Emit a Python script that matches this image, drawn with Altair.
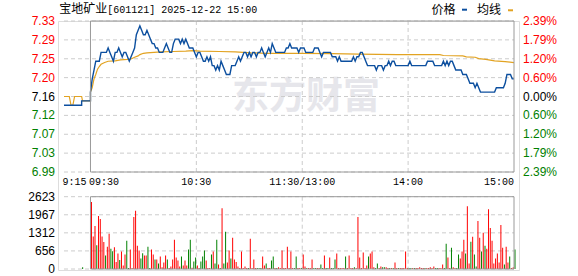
import altair as alt
import pandas as pd

W, H, PH = 461, 249, 151
NUMF = "Liberation Sans"
MONO = "Liberation Mono"
CJK = "Noto Sans CJK SC"

# ---------------- data ----------------
title_name = "宝地矿业"
title_rest = "[601121] 2025-12-22 15:00"
legend_price = "价格"
legend_avg = "均线"
watermark = "东方财富"

level_vals = [7.3312, 7.2884, 7.2456, 7.2028, 7.16, 7.1172, 7.0744, 7.0316, 6.9888]
price_labels = ["7.33", "7.29", "7.25", "7.20", "7.16", "7.12", "7.07", "7.03", "6.99"]
pct_labels = ["2.39%", "1.79%", "1.20%", "0.60%", "0.00%", "0.60%", "1.20%", "1.79%", "2.39%"]
level_dir = ["up", "up", "up", "up", "flat", "down", "down", "down", "down"]

vol_levels = [2623, 1967, 1312, 656, 0]
vol_labels = ["2623", "1967", "1312", "656", "0"]

x_left_t = [-15, 0]
x_left_lab = ["9:15", "09:30"]
x_mid_t = [60, 120, 180]
x_mid_lab = ["10:30", "11:30/13:00", "14:00"]
x_right_t = [240]
x_right_lab = ["15:00"]

# pre-market (9:15-9:30) price and average
pre_t = [-15, -5, -5, 0]
pre_price = [7.14, 7.14, 7.15, 7.15]
pre_avg_t = [-15, -12, -11, -10, -9, -5, -4.5, 0]
pre_avg = [7.16, 7.16, 7.14, 7.14, 7.16, 7.16, 7.15, 7.15]

# minute prices 9:30 .. 15:00 (241 points)
price = [
    7.17, 7.20, 7.22, 7.24, 7.24, 7.24, 7.26, 7.26, 7.26, 7.26,
    7.27, 7.26, 7.25, 7.24, 7.26, 7.26, 7.27, 7.26, 7.25, 7.26,
    7.26, 7.25, 7.24, 7.25, 7.26, 7.27, 7.30, 7.31, 7.32, 7.31,
    7.30, 7.30, 7.31, 7.30, 7.29, 7.28, 7.28, 7.27, 7.27, 7.26,
    7.26, 7.26, 7.27, 7.28, 7.27, 7.26, 7.26, 7.28, 7.29, 7.29,
    7.29, 7.28, 7.29, 7.28, 7.29, 7.28, 7.27, 7.27, 7.27, 7.26,
    7.25, 7.26, 7.26, 7.25, 7.24, 7.24, 7.25, 7.24, 7.25, 7.23,
    7.23, 7.22, 7.23, 7.22, 7.24, 7.23, 7.22, 7.21, 7.21, 7.21,
    7.23, 7.23, 7.23, 7.24, 7.25, 7.24, 7.25, 7.26, 7.26, 7.25,
    7.26, 7.25, 7.26, 7.26, 7.25, 7.26, 7.26, 7.27, 7.26, 7.25,
    7.26, 7.27, 7.26, 7.28, 7.27, 7.26, 7.26, 7.26, 7.26, 7.26,
    7.26, 7.27, 7.27, 7.28, 7.27, 7.27, 7.27, 7.27, 7.26, 7.27,
    7.27, 7.27, 7.26, 7.26, 7.26, 7.26, 7.26, 7.27, 7.27, 7.27,
    7.26, 7.25, 7.26, 7.26, 7.26, 7.26, 7.26, 7.25, 7.25, 7.25,
    7.24, 7.25, 7.24, 7.24, 7.24, 7.24, 7.24, 7.24, 7.24, 7.25,
    7.24, 7.25, 7.25, 7.26, 7.26, 7.25, 7.24, 7.23, 7.23, 7.23,
    7.23, 7.23, 7.22, 7.23, 7.23, 7.23, 7.22, 7.23, 7.23, 7.24,
    7.23, 7.24, 7.24, 7.23, 7.23, 7.23, 7.23, 7.23, 7.23, 7.23,
    7.23, 7.24, 7.23, 7.23, 7.23, 7.23, 7.23, 7.23, 7.23, 7.23,
    7.23, 7.24, 7.24, 7.24, 7.24, 7.23, 7.23, 7.23, 7.23, 7.23,
    7.24, 7.23, 7.24, 7.23, 7.24, 7.24, 7.23, 7.22, 7.22, 7.22,
    7.22, 7.21, 7.21, 7.21, 7.20, 7.19, 7.19, 7.19, 7.18, 7.19,
    7.18, 7.17, 7.17, 7.17, 7.17, 7.17, 7.17, 7.17, 7.17, 7.17,
    7.18, 7.18, 7.18, 7.18, 7.18, 7.19, 7.21, 7.21, 7.21, 7.20,
    7.20,
]

# average price line (minute, value)
avg_t = [0, 1, 2, 3, 4, 5, 6, 8, 10, 14, 17, 21, 23, 25, 27, 28, 30, 32, 36, 40,
         47, 54, 58, 62, 73, 82, 91, 100, 120, 137, 152, 174, 198, 200, 211, 213,
         218, 220, 224, 229, 235, 240]
avg_v = [7.17, 7.18, 7.20, 7.21, 7.222, 7.228, 7.233, 7.237, 7.240, 7.241,
         7.243, 7.244, 7.245, 7.249, 7.252, 7.255, 7.258, 7.259, 7.260, 7.261,
         7.262, 7.263, 7.264, 7.263, 7.262, 7.261, 7.259, 7.258, 7.258, 7.257,
         7.256, 7.255, 7.255, 7.253, 7.252, 7.250, 7.249, 7.246, 7.244, 7.241,
         7.239, 7.237]

# minute volumes 9:30 .. 15:00 (241) and their colours (r = up, g = down)
vol = [
    2432, 1180, 1561, 858, 1919, 1812, 1180, 977, 489, 810,
    1275, 739, 644, 787, 250, 560, 322, 632, 131, 525,
    1025, 36, 703, 36, 1883, 2110, 846, 668, 381, 572,
    489, 489, 810, 36, 703, 525, 346, 346, 203, 453,
    60, 238, 489, 346, 36, 95, 346, 1061, 417, 310,
    95, 453, 131, 310, 131, 703, 1061, 48, 274, 417,
    131, 36, 274, 453, 668, 310, 36, 36, 525, 632,
    203, 1061, 167, 36, 2205, 203, 1347, 238, 668, 381,
    1132, 346, 250, 95, 36, 632, 36, 95, 36, 36,
    1097, 36, 346, 36, 36, 36, 36, 453, 131, 203,
    36, 36, 310, 453, 36, 36, 60, 36, 668, 36,
    36, 810, 36, 632, 36, 36, 453, 36, 36, 36,
    525, 95, 36, 36, 36, 346, 36, 36, 36, 36,
    167, 36, 489, 36, 36, 417, 36, 36, 346, 560,
    36, 36, 36, 36, 453, 36, 489, 36, 36, 60,
    36, 1883, 417, 36, 596, 36, 131, 453, 560, 632,
    60, 36, 203, 36, 95, 60, 60, 60, 36, 36,
    36, 36, 238, 36, 36, 36, 36, 36, 632, 36,
    36, 36, 36, 36, 36, 36, 60, 36, 36, 36,
    36, 36, 60, 36, 95, 36, 36, 36, 36, 167,
    36, 918, 417, 36, 775, 60, 36, 36, 525, 381,
    632, 1061, 560, 2277, 203, 989, 1168, 525, 95, 1740,
    1132, 632, 1311, 846, 739, 2170, 1490, 1025, 203, 381,
    560, 238, 1597, 775, 167, 810, 238, 453, 36, 60, 703,
]
vol_dir = (
    "rrrgrrrrgr" "rggrrrgrrr" "ggrrrrrrgg" "rrggrrgrgr" "rrrgrrrrrr"
    "rgrrrggrgg" "rrgggrrrgr" "ggrgrggrrg" "rrrrrrrrrg" "rrrrgggrrg"
    "rrggrgrrrr" "rrrrrggrrg" "r"
    "rgrrrggrr" "ggrggrgggr" "rrrrgrrrrg" "rrrrrrrgrr" "rggrrggrrg"
    "rgrrgrrrrr" "ggrgrrrrrg" "rrrrrggrrr" "ggrrgrrggr" "rrgrrgrggr"
    "rgrgrrrrrr" "rrrrgrrgrrg"
)
pre_vol_t = [-5]
pre_vol = [60]
pre_vol_dir = "g"

# ---------------- frames ----------------
dmap = {"r": "up", "g": "down"}
df_price = pd.DataFrame({"t": pre_t + list(range(len(price))), "p": pre_price + price})
df_price["seq"] = range(len(df_price))
df_avg = pd.DataFrame({"t": pre_avg_t + avg_t, "p": pre_avg + avg_v})
df_avg["seq"] = range(len(df_avg))
df_vol = pd.DataFrame({
    "t": pre_vol_t + list(range(len(vol))),
    "vol": pre_vol + vol,
    "dir": [dmap[c] for c in pre_vol_dir + vol_dir],
})
df_lev = pd.DataFrame({"level": level_vals, "plab": price_labels, "pct": pct_labels, "dir": level_dir})
df_vlev = pd.DataFrame({"level": vol_levels, "lab": vol_labels})
df_vgrid = pd.DataFrame({"t": x_mid_t})
df_one = pd.DataFrame({"k": [0]})

xs = alt.Scale(domain=[-15, 240], range=[1, W], nice=False, zero=False)
ps = alt.Scale(domain=[6.9888, 7.3312], range=[PH, 0], nice=False, zero=False)
vs = alt.Scale(domain=[0, 2623], range=[248, 175.7], nice=False, zero=False)
cs = alt.Scale(domain=["up", "flat", "down"], range=["#ff0000", "#000000", "#008000"])

GRID = dict(color="#cccccc", strokeDash=[4, 3], strokeWidth=1)
FRAME = "#9a9a9a"

wm = alt.Chart(pd.DataFrame({"txt": [watermark]})).mark_text(
    font=CJK, fontSize=37, fontWeight="bold", color="#e6e6eb", align="center", baseline="middle"
).encode(x=alt.value(248), y=alt.value(77), text="txt:N")

pgrid = alt.Chart(df_lev).mark_rule(**GRID).encode(
    x=alt.X(datum=-15, scale=xs, axis=None), x2=alt.X2(datum=240),
    y=alt.Y("level:Q", scale=ps, axis=None))
vgrid_lines = alt.Chart(df_vlev).mark_rule(**GRID).encode(
    x=alt.X(datum=-15, scale=xs, axis=None), x2=alt.X2(datum=240),
    y=alt.Y("level:Q", scale=vs, axis=None))
pvert = alt.Chart(df_vgrid).mark_rule(**GRID).encode(
    x=alt.X("t:Q", scale=xs, axis=None), y=alt.value(0), y2=alt.value(PH))
vvert = alt.Chart(df_vgrid).mark_rule(**GRID).encode(
    x=alt.X("t:Q", scale=xs, axis=None), y=alt.value(175.7), y2=alt.value(248))

pframe = alt.Chart(df_one).mark_rect(fillOpacity=0, stroke=FRAME, strokeWidth=1).encode(
    x=alt.X(datum=0, scale=xs, axis=None), x2=alt.X2(datum=240),
    y=alt.Y(datum=7.3312, scale=ps, axis=None), y2=alt.Y2(datum=6.9888))
vframe = alt.Chart(df_one).mark_rect(fillOpacity=0, stroke=FRAME, strokeWidth=1).encode(
    x=alt.X(datum=0, scale=xs, axis=None), x2=alt.X2(datum=240),
    y=alt.Y(datum=2623, scale=vs, axis=None), y2=alt.Y2(datum=0))

bars = alt.Chart(df_vol).mark_bar(width=1, xOffset=1).encode(
    x=alt.X("t:Q", scale=xs, axis=None),
    y=alt.Y("vol:Q", scale=vs, axis=None), y2=alt.Y2(datum=0),
    color=alt.Color("dir:N", scale=cs, legend=None))

avg_line = alt.Chart(df_avg).mark_line(color="#e2a322", strokeWidth=1.2).encode(
    x=alt.X("t:Q", scale=xs, axis=None), y=alt.Y("p:Q", scale=ps, axis=None), order="seq:Q")
price_line = alt.Chart(df_price).mark_line(color="#0c4f9f", strokeWidth=1.4).encode(
    x=alt.X("t:Q", scale=xs, axis=None), y=alt.Y("p:Q", scale=ps, axis=None), order="seq:Q")

left_lab = alt.Chart(df_lev).mark_text(align="right", baseline="middle", font=NUMF, fontSize=12).encode(
    x=alt.value(-3), y=alt.Y("level:Q", scale=ps, axis=None), text="plab:N",
    color=alt.Color("dir:N", scale=cs, legend=None))
right_lab = alt.Chart(df_lev).mark_text(align="left", baseline="middle", font=NUMF, fontSize=12).encode(
    x=alt.value(465), y=alt.Y("level:Q", scale=ps, axis=None), text="pct:N",
    color=alt.Color("dir:N", scale=cs, legend=None))
vol_lab = alt.Chart(df_vlev).mark_text(align="right", baseline="middle", font=NUMF, fontSize=12, color="#000000").encode(
    x=alt.value(-3), y=alt.Y("level:Q", scale=vs, axis=None), text="lab:N")

def xlab(ts, labs, align, dx):
    d = pd.DataFrame({"t": ts, "lab": labs})
    return alt.Chart(d).mark_text(align=align, baseline="middle", font=MONO, fontSize=10,
                                  color="#000000", dx=dx).encode(
        x=alt.X("t:Q", scale=xs, axis=None), y=alt.value(161), text="lab:N")

xl1 = xlab(x_left_t, x_left_lab, "left", -1.5)
xl2 = xlab(x_mid_t, x_mid_lab, "center", 0)
xl3 = xlab(x_right_t, x_right_lab, "right", 0)

t1 = alt.Chart(pd.DataFrame({"txt": [title_name]})).mark_text(
    align="left", baseline="alphabetic", font=CJK, fontSize=12, color="#000000"
).encode(x=alt.value(1.3), y=alt.value(-8), text="txt:N")
t2 = alt.Chart(pd.DataFrame({"txt": [title_rest]})).mark_text(
    align="left", baseline="alphabetic", font=MONO, fontSize=10, color="#000000"
).encode(x=alt.value(49.3), y=alt.value(-8), text="txt:N")

lg1 = alt.Chart(pd.DataFrame({"txt": [legend_price]})).mark_text(
    align="left", baseline="middle", font=CJK, fontSize=12, color="#000000"
).encode(x=alt.value(373.5), y=alt.value(-11.5), text="txt:N")
lg2 = alt.Chart(pd.DataFrame({"txt": [legend_avg]})).mark_text(
    align="left", baseline="middle", font=CJK, fontSize=12, color="#000000"
).encode(x=alt.value(419), y=alt.value(-11.5), text="txt:N")
lgd1 = alt.Chart(df_one).mark_rule(color="#0c4f9f", strokeWidth=2).encode(
    x=alt.value(404), x2=alt.value(409), y=alt.value(-11.3))
lgd2 = alt.Chart(df_one).mark_rule(color="#e2a322", strokeWidth=2).encode(
    x=alt.value(450), x2=alt.value(455), y=alt.value(-10.7))

chart = alt.layer(
    wm, pgrid, vgrid_lines, pvert, vvert, bars, avg_line, price_line, pframe, vframe,
    left_lab, right_lab, vol_lab, xl1, xl2, xl3, t1, t2, lg1, lg2, lgd1, lgd2
).resolve_scale(y="independent").properties(
    width=W, height=H,
    autosize=alt.AutoSizeParams(type="none"),
    padding={"left": 58, "top": 21, "right": 59, "bottom": 6},
).configure_view(strokeWidth=0).configure(background="#ffffff")

chart.save("out.html", embed_options={"renderer": "svg", "actions": False})
